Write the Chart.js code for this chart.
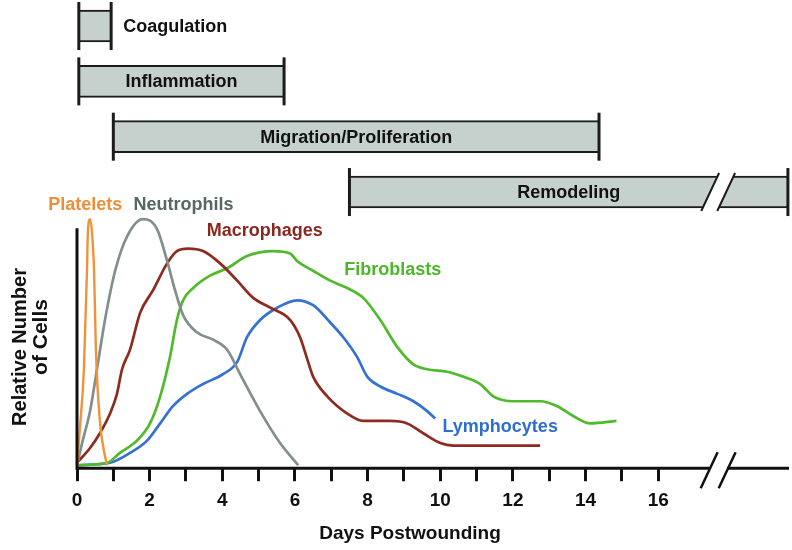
<!DOCTYPE html>
<html>
<head>
<meta charset="utf-8">
<script src="https://cdn.jsdelivr.net/npm/chart.js@4.4.1/dist/chart.umd.min.js"></script>
<style>
  html, body { margin: 0; padding: 0; background: #fff; }
</style>
</head>
<body>
<canvas id="healingChart" width="792" height="550"></canvas>
<script>
// Wound healing phases (days)
const phaseNames = ['Coagulation', 'Inflammation', 'Migration/Proliferation', 'Remodeling'];
const phaseStart = [0.05, 0.05, 1, 7.5];
const phaseEnd = [0.94, 5.7, 14.37, 19.57];
const phaseRow = [0, 1, 2, 3];

// Cell curves: day / relative number
const plateletDays = [0, 0.08, 0.19, 0.275, 0.3, 0.36, 0.41, 0.47, 0.52, 0.63, 0.74, 0.83];
const plateletValues = [0, 15, 39, 79, 95, 100, 95, 79, 47, 18, 6, 0];

const neutrophilDays = [0, 0.14, 0.36, 0.55, 0.77, 1.05, 1.38, 1.82, 2.2, 2.48, 2.7, 2.92, 3.3, 3.75, 4.13, 4.49, 5.04, 5.59, 6.09];
const neutrophilValues = [0, 9, 22, 39, 59, 79, 93, 100, 96, 83, 71, 61, 54, 51, 47, 37, 22, 9, 0];

const macrophageDays = [0, 0.36, 0.63, 0.91, 1.1, 1.24, 1.46, 1.74, 2.09, 2.48, 2.75, 3.06, 3.47, 3.94, 4.41, 4.85, 5.32, 5.87, 6.14, 6.34, 6.5, 6.89, 7.44, 7.88, 8.62, 9.09, 9.53, 10.0, 10.36, 12.75];
const macrophageValues = [1, 7, 13, 21, 29, 39, 47, 62, 71, 82, 87, 88, 87, 82, 75, 68, 64, 59, 52, 43, 36, 28, 21, 18, 18, 17, 13, 9, 8, 8];

const fibroblastDays = [0, 0.83, 1.18, 1.65, 2.01, 2.29, 2.56, 2.75, 2.92, 3.2, 3.66, 4.13, 4.68, 5.4, 5.87, 6.06, 6.5, 6.97, 7.44, 7.88, 8.35, 8.82, 9.26, 9.64, 10.19, 10.63, 11.1, 11.46, 12.01, 12.75, 13.22, 13.66, 14.13, 14.85];
const fibroblastValues = [0, 1, 5, 10, 17, 28, 44, 59, 67, 72, 77, 80, 85, 87, 86, 83, 79, 75, 72, 68, 59, 48, 41, 39, 38, 36, 33, 28, 26, 26, 24, 20, 17, 18];

const lymphocyteDays = [0, 0.91, 1.46, 1.93, 2.29, 2.64, 3.03, 3.47, 4.02, 4.41, 4.68, 5.04, 5.51, 6.06, 6.5, 6.97, 7.33, 7.71, 7.99, 8.35, 8.82, 9.26, 9.64, 9.86];
const lymphocyteValues = [0, 1, 5, 10, 17, 24, 29, 33, 37, 42, 52, 59, 64, 67, 65, 58, 52, 44, 36, 32, 29, 26, 22, 19];

// Curve labels and where they sit (day, value)
const cellNames = ['Platelets', 'Neutrophils', 'Macrophages', 'Fibroblasts', 'Lymphocytes'];
const labelDays = [0.23, 2.93, 5.17, 8.69, 11.65];
const labelValues = [105.7, 105.7, 95, 79.3, 15.4];

const xTickLabels = [0, 2, 4, 6, 8, 10, 12, 14, 16];
const lastTick = 16;
const breakDay = 17.65;
const yAxisTop = 96.3;

const cellColors = ['#f0923a', '#838f8d', '#8f2a1f', '#4fba2c', '#3571d2'];
const labelColors = ['#ee8e36', '#566866', '#8b281d', '#4cb72a', '#2f6dd0'];
const FONT = '"Liberation Sans", Arial, sans-serif';

function toPoints(days, values) {
    return days.map((d, i) => ({ x: d, y: values[i] }));
}

const cellSeries = [
    toPoints(plateletDays, plateletValues),
    toPoints(neutrophilDays, neutrophilValues),
    toPoints(macrophageDays, macrophageValues),
    toPoints(fibroblastDays, fibroblastValues),
    toPoints(lymphocyteDays, lymphocyteValues)
];

const lineDatasets = cellSeries.map((pts, i) => ({
    type: 'line',
    label: cellNames[i],
    data: pts,
    borderColor: cellColors[i],
    borderWidth: i === 0 ? 2.4 : 2.7,
    pointRadius: 0,
    cubicInterpolationMode: 'monotone',
    fill: false,
    xAxisID: 'x',
    yAxisID: 'y'
}));

const phaseDataset = {
    type: 'bar',
    label: 'Phases',
    indexAxis: 'y',
    data: phaseRow.map((r, i) => ({ x: [phaseStart[i], phaseEnd[i]], y: r })),
    backgroundColor: '#c6d0cd',
    borderColor: '#1c1c1c',
    borderWidth: { top: 2, bottom: 2, left: 0, right: 0 },
    borderSkipped: false,
    barThickness: 32,
    xAxisID: 'x',
    yAxisID: 'yPhase'
};

function drawSlash(ctx, cx, cy, half) {
    const dx = half * 0.47;
    ctx.beginPath();
    ctx.moveTo(cx + dx, cy - half);
    ctx.lineTo(cx - dx, cy + half);
    ctx.stroke();
}

const decorPlugin = {
    id: 'decor',
    afterDatasetsDraw(chart) {
        const { ctx, chartArea, scales } = chart;
        const x = scales.x, y = scales.y;
        ctx.save();

        // phase bar caps, labels and the remodeling break
        const meta = chart.getDatasetMeta(lineDatasets.length);
        meta.data.forEach((bar, i) => {
            const p = bar.getProps(['x', 'y', 'base', 'height'], true);
            const left = Math.min(p.x, p.base), right = Math.max(p.x, p.base);
            ctx.strokeStyle = '#1c1c1c';
            ctx.lineWidth = 3;
            [left, right].forEach(px => {
                ctx.beginPath();
                ctx.moveTo(px, p.y - 24);
                ctx.lineTo(px, p.y + 24);
                ctx.stroke();
            });
            ctx.fillStyle = '#111';
            ctx.font = 'bold 18px ' + FONT;
            ctx.textBaseline = 'middle';
            if (i === 0) {
                ctx.textAlign = 'left';
                ctx.fillText(phaseNames[i], right + 12, p.y + 1);
            } else {
                ctx.textAlign = 'center';
                ctx.fillText(phaseNames[i], (left + right) / 2, p.y + 1);
            }
            if (i === 3) {
                const c = x.getPixelForValue(breakDay);
                const top = p.y - p.height / 2 - 1, bot = p.y + p.height / 2 + 1;
                const half = (bot - top) / 2;
                const dx = half * 0.47;
                ctx.fillStyle = '#fff';
                ctx.beginPath();
                ctx.moveTo(c - 8 + dx, top);
                ctx.lineTo(c + 8 + dx, top);
                ctx.lineTo(c + 8 - dx, bot);
                ctx.lineTo(c - 8 - dx, bot);
                ctx.closePath();
                ctx.fill();
                ctx.lineWidth = 2;
                drawSlash(ctx, c - 8, p.y, half + 2);
                drawSlash(ctx, c + 8, p.y, half + 2);
            }
        });

        // axes lines with break
        const bottom = chartArea.bottom;
        const x0 = x.getPixelForValue(0);
        const cb = x.getPixelForValue(breakDay);
        ctx.strokeStyle = '#111';
        ctx.lineWidth = 3;
        ctx.beginPath();
        ctx.moveTo(x0, bottom + 1.5);
        ctx.lineTo(x0, y.getPixelForValue(yAxisTop));
        ctx.moveTo(x0 - 1.5, bottom);
        ctx.lineTo(cb - 9, bottom);
        ctx.moveTo(cb + 9, bottom);
        ctx.lineTo(chartArea.right, bottom);
        ctx.stroke();
        ctx.lineWidth = 2.5;
        drawSlash(ctx, cb - 9, bottom + 2, 18);
        drawSlash(ctx, cb + 9, bottom + 2, 18);

        // curve labels
        ctx.font = 'bold 18px ' + FONT;
        ctx.textAlign = 'center';
        ctx.textBaseline = 'middle';
        cellNames.forEach((name, i) => {
            ctx.fillStyle = labelColors[i];
            ctx.fillText(name, x.getPixelForValue(labelDays[i]), y.getPixelForValue(labelValues[i]));
        });

        // axis titles
        ctx.fillStyle = '#111';
        ctx.font = 'bold 19px ' + FONT;
        ctx.fillText('Days Postwounding', 410, bottom + 66);
        ctx.font = 'bold 20px ' + FONT;
        ctx.translate(0, 347);
        ctx.rotate(-Math.PI / 2);
        ctx.fillText('Relative Number', 0, 20);
        ctx.font = 'bold 21px ' + FONT;
        ctx.fillText('of Cells', 10, 41);
        ctx.restore();
    }
};

const ctx = document.getElementById('healingChart').getContext('2d');
const healingChart = new Chart(ctx, {
    type: 'line',
    data: {
        datasets: [...lineDatasets, phaseDataset]
    },
    options: {
        responsive: false,
        animation: false,
        layout: {
            padding: { left: 77, right: 3, top: 0, bottom: 30 }
        },
        plugins: {
            legend: { display: false },
            tooltip: { enabled: false }
        },
        scales: {
            x: {
                type: 'linear',
                min: 0,
                max: 19.6,
                offset: false,
                border: { display: false },
                grid: {
                    drawOnChartArea: false,
                    drawTicks: true,
                    tickLength: 13,
                    tickWidth: 3,
                    tickColor: '#111'
                },
                afterBuildTicks: scale => {
                    scale.ticks = scale.ticks.filter(t => t.value <= lastTick);
                },
                ticks: {
                    stepSize: 1,
                    autoSkip: false,
                    maxRotation: 0,
                    padding: 8,
                    color: '#111',
                    font: { family: FONT, size: 19, weight: 'bold' },
                    callback: v => xTickLabels.includes(v) ? String(v) : ''
                }
            },
            y: {
                type: 'linear',
                display: false,
                min: -1.2,
                max: 189
            },
            yPhase: {
                type: 'linear',
                axis: 'y',
                display: false,
                offset: false,
                grid: { offset: false },
                reverse: true,
                min: -0.47,
                max: 7.99
            }
        }
    },
    plugins: [decorPlugin]
});
</script>
</body>
</html>
